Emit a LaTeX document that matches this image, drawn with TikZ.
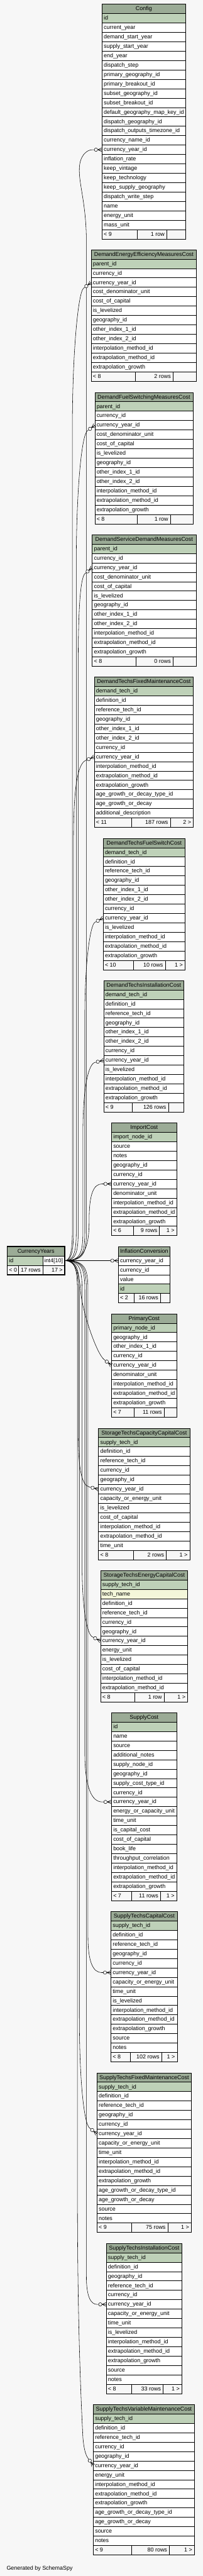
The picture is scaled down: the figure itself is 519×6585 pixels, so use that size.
\documentclass[tikz,border=0pt]{standalone}
\usepackage{fontspec}
\setmainfont{Liberation Sans}
\usetikzlibrary{decorations.markings}
\definecolor{hdr}{HTML}{9BAB96}
\definecolor{pk}{HTML}{BED1B8}
\definecolor{ix}{HTML}{F4F7DA}
\definecolor{nc}{HTML}{FFFFFF}
\definecolor{foot}{HTML}{F7F7F7}
\definecolor{bgc}{HTML}{F7F7F7}
\newcommand\erfont{\fontsize{14.4}{17}\selectfont}
\tikzset{
  cellb/.style={draw=black, line width=1pt},
  rowtxt/.style={anchor=base west, inner sep=0pt, font=\erfont},
  rtxt/.style={anchor=base east, inner sep=0pt, font=\erfont},
  hdrtxt/.style={anchor=base, inner sep=0pt, font=\erfont},
  rel/.style={draw=black, line width=0.9pt, postaction={decorate},
    decoration={markings, mark=at position 1 with {
      \draw[line width=0.9pt] (-11pt,0pt) -- (0pt,5pt) (-11pt,0pt) -- (0pt,-5pt) (-11pt,0pt) -- (0pt,0pt);
      \draw[line width=0.9pt, fill=white] (-15.5pt,0pt) circle (4.3pt);}}},
}
% #1 name, #2 left, #3 right, #4 top, #5 title, #6 rows
\newcommand\ertable[6]{%
  \filldraw[cellb, fill=hdr] (#2,#4) rectangle (#3,#4+24);
  \node[hdrtxt] (#1-h) at ({(#2+#3)/2},#4+16.5) {#5};
  \foreach \kind/\txt [count=\k] in {#6} {
    \pgfmathsetmacro\errt{#4+24*\k}
    \filldraw[cellb, fill=\kind] (#2,\errt) rectangle (#3,\errt+24);
    \node[rowtxt] (#1-r\k) at (#2+4.3,\errt+16.5) {\txt};
    \xdef\ernrows{\k}
  }
  \pgfmathsetmacro\erfoottop{#4+24*(\ernrows+1)}
}
% #1 name, #2 left, #3 right, #4 sep1, #5 sep2, #6 #7 #8 texts
\newcommand\erfoot[8]{%
  \filldraw[cellb, fill=foot] (#2,\erfoottop) rectangle (#4,\erfoottop+24);
  \filldraw[cellb, fill=foot] (#4,\erfoottop) rectangle (#5,\erfoottop+24);
  \filldraw[cellb, fill=foot] (#5,\erfoottop) rectangle (#3,\erfoottop+24);
  \node[rowtxt] (#1-f1) at (#2+4.3,\erfoottop+16.5) {#6};
  \node[rtxt] (#1-f2) at (#5-5.5,\erfoottop+16.5) {#7};
  \node[rtxt] (#1-f3) at (#3-5.5,\erfoottop+16.5) {#8};
}
\catcode`\_=12
\begin{document}
\begin{tikzpicture}[x=1pt,y=-1pt]
\fill[bgc] (0,0) rectangle (519,6585);
\useasboundingbox (0,0) rectangle (519,6585);

\ertable{cfg}{261}{474.7}{10.7}{Config}{pk/id, nc/current_year, nc/demand_start_year, nc/supply_start_year, nc/end_year, nc/dispatch_step, nc/primary_geography_id, nc/primary_breakout_id, nc/subset_geography_id, nc/subset_breakout_id, nc/default_geography_map_key_id, nc/dispatch_geography_id, nc/dispatch_outputs_timezone_id, nc/currency_name_id, nc/currency_year_id, nc/inflation_rate, nc/keep_vintage, nc/keep_technology, nc/keep_supply_geography, nc/dispatch_write_step, nc/name, nc/energy_unit, nc/mass_unit}
\erfoot{cfg}{261}{474.7}{350.7}{426.7}{< 9}{1 row}{}

\ertable{dee}{233.3}{502.7}{638.2}{DemandEnergyEfficiencyMeasuresCost}{pk/parent_id, nc/currency_id, nc/currency_year_id, nc/cost_denominator_unit, nc/cost_of_capital, nc/is_levelized, nc/geography_id, nc/other_index_1_id, nc/other_index_2_id, nc/interpolation_method_id, nc/extrapolation_method_id, nc/extrapolation_growth}
\erfoot{dee}{233.3}{502.7}{346.7}{442.7}{< 8}{2 rows}{}

\ertable{dfs}{242.7}{493.3}{1002.9}{DemandFuelSwitchingMeasuresCost}{pk/parent_id, nc/currency_id, nc/currency_year_id, nc/cost_denominator_unit, nc/cost_of_capital, nc/is_levelized, nc/geography_id, nc/other_index_1_id, nc/other_index_2_id, nc/interpolation_method_id, nc/extrapolation_method_id, nc/extrapolation_growth}
\erfoot{dfs}{242.7}{493.3}{350.7}{436}{< 8}{1 row}{}

\ertable{dsd}{236}{501.3}{1366.8}{DemandServiceDemandMeasuresCost}{pk/parent_id, nc/currency_id, nc/currency_year_id, nc/cost_denominator_unit, nc/cost_of_capital, nc/is_levelized, nc/geography_id, nc/other_index_1_id, nc/other_index_2_id, nc/interpolation_method_id, nc/extrapolation_method_id, nc/extrapolation_growth}
\erfoot{dsd}{236}{501.3}{347.7}{442.7}{< 8}{0 rows}{}

\ertable{dtfm}{241.3}{494.7}{1730.7}{DemandTechsFixedMaintenanceCost}{pk/demand_tech_id, nc/definition_id, nc/reference_tech_id, nc/geography_id, nc/other_index_1_id, nc/other_index_2_id, nc/currency_id, nc/currency_year_id, nc/interpolation_method_id, nc/extrapolation_method_id, nc/extrapolation_growth, nc/age_growth_or_decay_type_id, nc/age_growth_or_decay, nc/additional_description}
\erfoot{dtfm}{241.3}{494.7}{337.3}{435.7}{< 11}{187 rows}{2 >}

\ertable{dtfs}{264}{473.3}{2142.9}{DemandTechsFuelSwitchCost}{pk/demand_tech_id, nc/definition_id, nc/reference_tech_id, nc/geography_id, nc/other_index_1_id, nc/other_index_2_id, nc/currency_id, nc/currency_year_id, nc/is_levelized, nc/interpolation_method_id, nc/extrapolation_method_id, nc/extrapolation_growth}
\erfoot{dtfs}{264}{473.3}{341}{422.7}{< 10}{10 rows}{1 >}

\ertable{dti}{265.3}{470.7}{2506.4}{DemandTechsInstallationCost}{pk/demand_tech_id, nc/definition_id, nc/reference_tech_id, nc/geography_id, nc/other_index_1_id, nc/other_index_2_id, nc/currency_id, nc/currency_year_id, nc/is_levelized, nc/interpolation_method_id, nc/extrapolation_method_id, nc/extrapolation_growth}
\erfoot{dti}{265.3}{470.7}{338.7}{430.7}{< 9}{126 rows}{}

\ertable{imp}{285.3}{452}{2870.4}{ImportCost}{pk/import_node_id, nc/source, nc/notes, nc/geography_id, nc/currency_id, nc/currency_year_id, nc/denominator_unit, nc/interpolation_method_id, nc/extrapolation_method_id, nc/extrapolation_growth}
\erfoot{imp}{285.3}{452}{341}{408}{< 6}{9 rows}{1 >}

\ertable{inf}{302.7}{434.7}{3186.4}{InflationConversion}{nc/currency_year_id, nc/currency_id, nc/value, pk/id}
\erfoot{inf}{302.7}{434.7}{343.7}{410.7}{< 2}{16 rows}{}

\ertable{pc}{285.3}{452}{3358.2}{PrimaryCost}{pk/primary_node_id, nc/geography_id, nc/other_index_1_id, nc/currency_id, nc/currency_year_id, nc/denominator_unit, nc/interpolation_method_id, nc/extrapolation_method_id, nc/extrapolation_growth}
\erfoot{pc}{285.3}{452}{343.7}{420}{< 7}{11 rows}{}

\ertable{stcc}{252}{485.3}{3650.7}{StorageTechsCapacityCapitalCost}{pk/supply_tech_id, nc/definition_id, nc/reference_tech_id, nc/currency_id, nc/geography_id, nc/currency_year_id, nc/capacity_or_energy_unit, nc/is_levelized, nc/cost_of_capital, nc/interpolation_method_id, nc/extrapolation_method_id, nc/time_unit}
\erfoot{stcc}{252}{485.3}{341}{425.3}{< 8}{2 rows}{1 >}

\ertable{stec}{257.3}{480}{4014.6}{StorageTechsEnergyCapitalCost}{pk/supply_tech_id, ix/tech_name, nc/definition_id, nc/reference_tech_id, nc/currency_id, nc/geography_id, nc/currency_year_id, nc/energy_unit, nc/is_levelized, nc/cost_of_capital, nc/interpolation_method_id, nc/extrapolation_method_id}
\erfoot{stec}{257.3}{480}{345.3}{420}{< 8}{1 row}{1 >}

\ertable{sc}{285.3}{452}{4378.2}{SupplyCost}{pk/id, nc/name, nc/source, nc/additional_notes, nc/supply_node_id, nc/geography_id, nc/supply_cost_type_id, nc/currency_id, nc/currency_year_id, nc/energy_or_capacity_unit, nc/time_unit, nc/is_capital_cost, nc/cost_of_capital, nc/book_life, nc/throughput_correlation, nc/interpolation_method_id, nc/extrapolation_method_id, nc/extrapolation_growth}
\erfoot{sc}{285.3}{452}{337.3}{410.7}{< 7}{11 rows}{1 >}

\ertable{stc}{284}{453.3}{4886.4}{SupplyTechsCapitalCost}{pk/supply_tech_id, nc/definition_id, nc/reference_tech_id, nc/geography_id, nc/currency_id, nc/currency_year_id, nc/capacity_or_energy_unit, nc/time_unit, nc/is_levelized, nc/interpolation_method_id, nc/extrapolation_method_id, nc/extrapolation_growth, nc/source, nc/notes}
\erfoot{stc}{284}{453.3}{333.3}{413.3}{< 8}{102 rows}{1 >}

\ertable{stfm}{248}{489.3}{5298.6}{SupplyTechsFixedMaintenanceCost}{pk/supply_tech_id, nc/definition_id, nc/reference_tech_id, nc/geography_id, nc/currency_id, nc/currency_year_id, nc/capacity_or_energy_unit, nc/time_unit, nc/interpolation_method_id, nc/extrapolation_method_id, nc/extrapolation_growth, nc/age_growth_or_decay_type_id, nc/age_growth_or_decay, nc/source, nc/notes}
\erfoot{stfm}{248}{489.3}{337.3}{429.3}{< 9}{75 rows}{1 >}

\ertable{sti}{272}{465.3}{5734.6}{SupplyTechsInstallationCost}{pk/supply_tech_id, nc/definition_id, nc/geography_id, nc/reference_tech_id, nc/currency_id, nc/currency_year_id, nc/capacity_or_energy_unit, nc/time_unit, nc/is_levelized, nc/interpolation_method_id, nc/extrapolation_method_id, nc/extrapolation_growth, nc/source, nc/notes}
\erfoot{sti}{272}{465.3}{337.3}{417.3}{< 8}{33 rows}{1 >}

\ertable{stvm}{238.7}{497.3}{6146.7}{SupplyTechsVariableMaintenanceCost}{pk/supply_tech_id, nc/definition_id, nc/reference_tech_id, nc/currency_id, nc/geography_id, nc/currency_year_id, nc/energy_unit, nc/interpolation_method_id, nc/extrapolation_method_id, nc/extrapolation_growth, nc/age_growth_or_decay_type_id, nc/age_growth_or_decay, nc/source, nc/notes}
\erfoot{stvm}{238.7}{497.3}{337.3}{433.3}{< 9}{80 rows}{1 >}

% CurrencyYears (focus table)
\filldraw[cellb, fill=hdr] (18.5,3186.5) rectangle (165.5,3210.5);
\node[hdrtxt] (cy-h) at (92,3203) {CurrencyYears};
\filldraw[cellb, fill=pk] (18.5,3210.5) rectangle (109.3,3234.5);
\filldraw[cellb, fill=white] (109.3,3210.5) rectangle (165.5,3234.5);
\node[rowtxt] (cy-r1) at (22.8,3227) {id};
\node[rowtxt] (cy-t1) at (113.5,3227) {int4[10]};
\filldraw[cellb, fill=foot] (18.5,3234.5) rectangle (47.7,3258.5);
\filldraw[cellb, fill=foot] (47.7,3234.5) rectangle (109.3,3258.5);
\filldraw[cellb, fill=foot] (109.3,3234.5) rectangle (165.5,3258.5);
\node[rowtxt] (cy-f1) at (22.8,3251) {< 0};
\node[rtxt] (cy-f2) at (104,3251) {17 rows};
\node[rtxt] (cy-f3) at (160.5,3251) {17 >};
\draw[line width=2.6pt] (18.5,3186.5) rectangle (165.5,3258.5);

\node[rowtxt] (gen) at (16.7,6570) {Generated by SchemaSpy};

% connector end points
\coordinate (cy-out) at (166.8,3222.5);
\coordinate (cfg-in) at (261,382.7); \coordinate (cfg-pre) at (237,382.7);
\coordinate (dee-in) at (233.3,722.2); \coordinate (dee-pre) at (214,736.5);
\coordinate (dfs-in) at (242.7,1086.9); \coordinate (dfs-pre) at (223.5,1101.3);
\coordinate (dsd-in) at (236,1450.8); \coordinate (dsd-pre) at (217.5,1466.1);
\coordinate (dtfm-in) at (241.3,1934.7); \coordinate (dtfm-pre) at (219.1,1943.8);
\coordinate (dtfs-in) at (264,2346.9); \coordinate (dtfs-pre) at (242.6,2357.7);
\coordinate (dti-in) at (265.3,2710.4); \coordinate (dti-pre) at (242,2716.1);
\coordinate (imp-in) at (285.3,3026.4); \coordinate (imp-pre) at (261.3,3026.4);
\coordinate (inf-in) at (302.7,3222.5);
\coordinate (pc-in) at (285.3,3490.2); \coordinate (pc-pre) at (266.4,3475.5);
\coordinate (stcc-in) at (252,3806.7); \coordinate (stcc-pre) at (228.6,3801.2);
\coordinate (stec-in) at (257.3,4194.6); \coordinate (stec-pre) at (235.8,4183.9);
\coordinate (sc-in) at (285.3,4606.2); \coordinate (sc-pre) at (261.3,4606.2);
\coordinate (stc-in) at (284,5042.4); \coordinate (stc-pre) at (260,5042.4);
\coordinate (stfm-in) at (248,5454.6); \coordinate (stfm-pre) at (229.1,5439.7);
\coordinate (sti-in) at (272,5890.6); \coordinate (sti-pre) at (248,5890.6);
\coordinate (stvm-in) at (238.7,6302.7); \coordinate (stvm-pre) at (224.7,6283.2);

% upward connectors
\draw[rel] (cy-out) .. controls (213,3222.5) and (221,3205) .. (221,3150) -- (221,620) .. controls (221,520) and (201,470) .. (203,430) .. controls (204,400) and (220,382.7) .. (cfg-pre) -- (cfg-in);
\draw[rel] (cy-out) .. controls (177,3222.5) and (185,3205) .. (185,3150) -- (185,1100) .. controls (185,900) and (200,746) .. (dee-pre) -- (dee-in);
\draw[rel] (cy-out) .. controls (187,3222.5) and (195,3205) .. (195,3150) -- (195,1450) .. controls (195,1250) and (209,1112) .. (dfs-pre) -- (dfs-in);
\draw[rel] (cy-out) .. controls (192,3222.5) and (200,3205) .. (200,3150) -- (200,1700) .. controls (200,1560) and (205.5,1476) .. (dsd-pre) -- (dsd-in);
\draw[rel] (cy-out) .. controls (180,3222.5) and (188,3205) .. (188,3150) -- (188,2150) .. controls (188,2010) and (199,1953) .. (dtfm-pre) -- (dtfm-in);
\draw[rel] (cy-out) .. controls (209,3222.5) and (217,3205) .. (217,3150) -- (217,2600) .. controls (217,2450) and (232,2363) .. (dtfs-pre) -- (dtfs-in);
\draw[rel] (cy-out) .. controls (204,3222.5) and (212,3205) .. (212,3150) -- (212,2900) .. controls (212,2770) and (228,2720.5) .. (dti-pre) -- (dti-in);
\draw[rel] (cy-out) .. controls (215,3222.5) and (228,3190) .. (228,3120) .. controls (228,3050) and (240,3026.4) .. (imp-pre) -- (imp-in);
\draw[rel] (cy-out) -- (inf-in);

% downward connectors
\draw[rel] (cy-out) .. controls (190,3222.5) and (203,3250) .. (206,3300) .. controls (212,3360) and (248,3461) .. (pc-pre) -- (pc-in);
\draw[rel] (cy-out) .. controls (192,3222.5) and (200,3240) .. (200,3300) -- (200,3660) .. controls (200,3760) and (210,3797) .. (stcc-pre) -- (stcc-in);
\draw[rel] (cy-out) .. controls (202,3222.5) and (210,3240) .. (210,3300) -- (210,4000) .. controls (210,4120) and (224,4178) .. (stec-pre) -- (stec-in);
\draw[rel] (cy-out) .. controls (209,3222.5) and (217,3240) .. (217,3300) -- (217,4480) .. controls (217,4570) and (235,4606.2) .. (sc-pre) -- (sc-in);
\draw[rel] (cy-out) .. controls (217,3222.5) and (225,3240) .. (225,3300) -- (225,4950) .. controls (225,5015) and (238,5042.4) .. (stc-pre) -- (stc-in);
\draw[rel] (cy-out) .. controls (195,3222.5) and (203,3240) .. (203,3300) -- (203,5150) .. controls (203,5330) and (216,5430) .. (stfm-pre) -- (stfm-in);
\draw[rel] (cy-out) .. controls (213,3222.5) and (221,3240) .. (221,3300) -- (221,5820) .. controls (221,5870) and (232,5890.6) .. (sti-pre) -- (sti-in);
\draw[rel] (cy-out) .. controls (190,3222.5) and (198,3240) .. (198,3300) -- (198,5600) .. controls (198,5950) and (208,6150) .. (212,6230) .. controls (214,6255) and (218,6274) .. (stvm-pre) -- (stvm-in);
\end{tikzpicture}
\end{document}
